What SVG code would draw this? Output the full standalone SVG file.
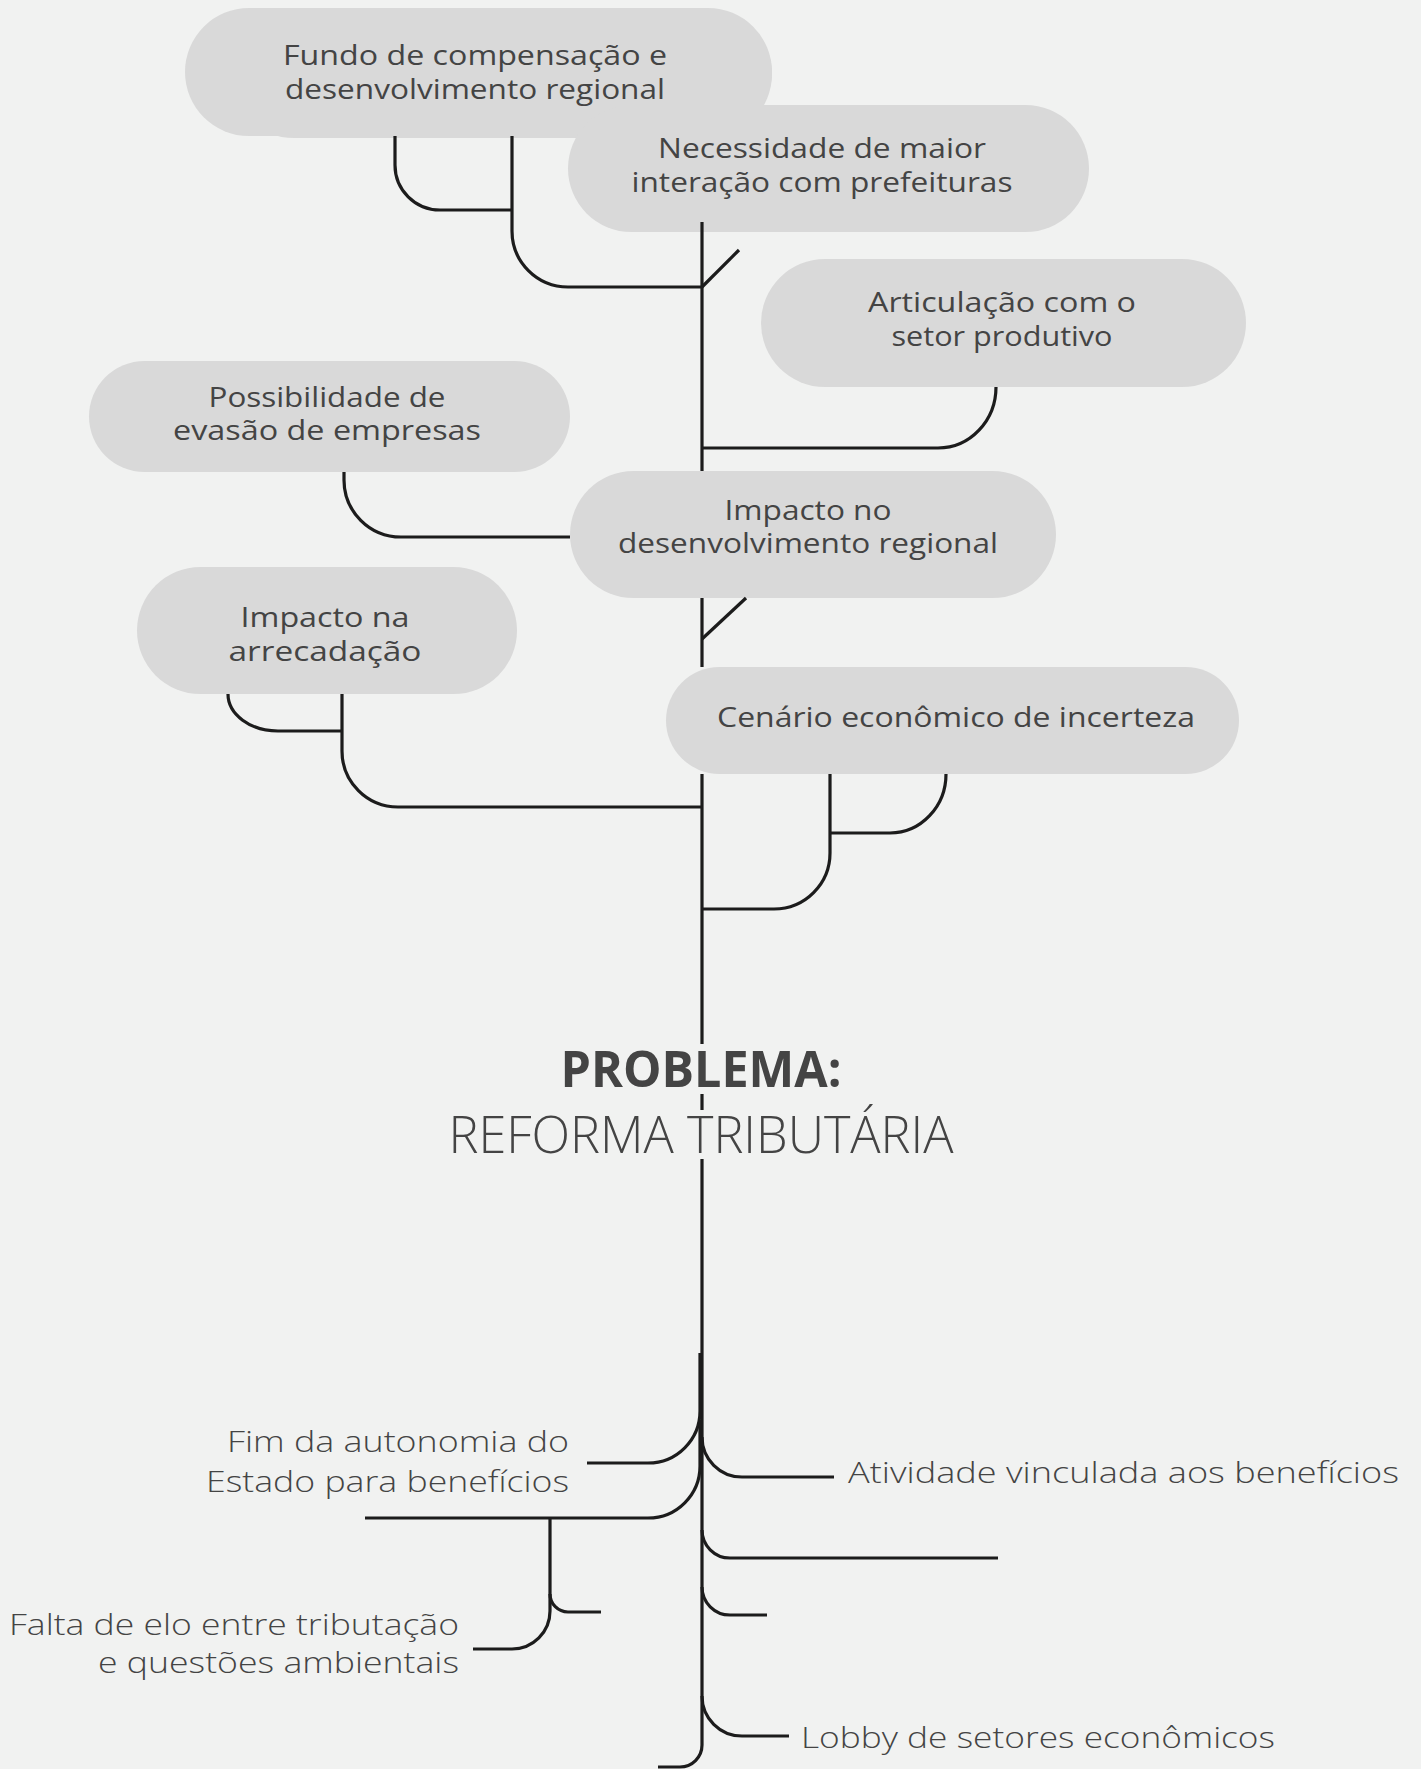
<svg xmlns="http://www.w3.org/2000/svg" width="1421" height="1769" viewBox="0 0 1421 1769">
  <style>
    .pill { fill: #d9d9d9; }
    .t { font-family: "Open Sans", "Noto Sans", sans-serif; font-size: 28px; fill: #444444; text-anchor: middle; }
    .lbl { font-family: "Open Sans", "Noto Sans", sans-serif; font-size: 30px; font-weight: 300; fill: #444444; }
    .end { text-anchor: end; }
    .ttl { font-family: "Open Sans", "Noto Sans", sans-serif; fill: #444444; text-anchor: middle; }
    .ln { fill: none; stroke: #1c1c1c; stroke-width: 3.2; }
  </style>

  <rect x="0" y="0" width="1421" height="1769" fill="#f1f2f1"/>

  <!-- upper tree: consequences -->
  <g id="fundo">
    <rect class="pill" x="230" y="10" width="542" height="128" rx="64"/>
    <rect class="pill" x="185" y="8" width="587" height="128" rx="64"/>
    <text class="t" x="475" y="65" textLength="384" lengthAdjust="spacingAndGlyphs">Fundo de compensação e</text>
    <text class="t" x="475" y="99" textLength="380" lengthAdjust="spacingAndGlyphs">desenvolvimento regional</text>
  </g>

  <g id="necessidade">
    <rect class="pill" x="568" y="105" width="521" height="127" rx="63.5"/>
    <text class="t" x="822" y="158" textLength="328" lengthAdjust="spacingAndGlyphs">Necessidade de maior</text>
    <text class="t" x="822" y="192" textLength="381" lengthAdjust="spacingAndGlyphs">interação com prefeituras</text>
  </g>

  <g id="articulacao">
    <rect class="pill" x="761" y="259" width="485" height="128" rx="64"/>
    <text class="t" x="1002" y="312" textLength="268" lengthAdjust="spacingAndGlyphs">Articulação com o</text>
    <text class="t" x="1002" y="346" textLength="221" lengthAdjust="spacingAndGlyphs">setor produtivo</text>
  </g>

  <g id="possibilidade">
    <rect class="pill" x="89" y="361" width="481" height="111" rx="55.5"/>
    <text class="t" x="327" y="407" textLength="237" lengthAdjust="spacingAndGlyphs">Possibilidade de</text>
    <text class="t" x="327" y="440" textLength="308" lengthAdjust="spacingAndGlyphs">evasão de empresas</text>
  </g>

  <g id="impacto-desenvolvimento">
    <rect class="pill" x="570" y="471" width="486" height="127" rx="63.5"/>
    <text class="t" x="808" y="520" textLength="167" lengthAdjust="spacingAndGlyphs">Impacto no</text>
    <text class="t" x="808" y="553" textLength="380" lengthAdjust="spacingAndGlyphs">desenvolvimento regional</text>
  </g>

  <g id="impacto-arrecadacao">
    <rect class="pill" x="137" y="567" width="380" height="127" rx="63.5"/>
    <text class="t" x="325" y="627" textLength="169" lengthAdjust="spacingAndGlyphs">Impacto na</text>
    <text class="t" x="325" y="661" textLength="193" lengthAdjust="spacingAndGlyphs">arrecadação</text>
  </g>

  <g id="cenario">
    <rect class="pill" x="666" y="667" width="573" height="107" rx="53.5"/>
    <text class="t" x="956" y="727" textLength="478" lengthAdjust="spacingAndGlyphs">Cenário econômico de incerteza</text>
  </g>

  <!-- central problem -->
  <g id="problema">
    <text class="ttl" x="701" y="1087" font-size="50" font-weight="700" textLength="281" lengthAdjust="spacingAndGlyphs">PROBLEMA:</text>
    <text class="ttl" x="701" y="1153" font-size="51" font-weight="300" textLength="505" lengthAdjust="spacingAndGlyphs">REFORMA TRIBUTÁRIA</text>
  </g>

  <!-- lower tree: causes -->
  <g id="fim-autonomia">
    <text class="lbl end" x="569" y="1452" textLength="342" lengthAdjust="spacingAndGlyphs">Fim da autonomia do</text>
    <text class="lbl end" x="569" y="1492" textLength="363" lengthAdjust="spacingAndGlyphs">Estado para benefícios</text>
  </g>

  <g id="falta-elo">
    <text class="lbl end" x="459" y="1635" textLength="450" lengthAdjust="spacingAndGlyphs">Falta de elo entre tributação</text>
    <text class="lbl end" x="459" y="1673" textLength="361" lengthAdjust="spacingAndGlyphs">e questões ambientais</text>
  </g>

  <g id="atividade">
    <text class="lbl" x="848" y="1483" textLength="551" lengthAdjust="spacingAndGlyphs">Atividade vinculada aos benefícios</text>
  </g>

  <g id="lobby">
    <text class="lbl" x="801" y="1748" textLength="474" lengthAdjust="spacingAndGlyphs">Lobby de setores econômicos</text>
  </g>

  <g id="connectors">
    <!-- trunk, broken where boxes and the title sit -->
    <path class="ln" d="M702,222 V471"/>
    <path class="ln" d="M702,598 V667"/>
    <path class="ln" d="M702,774 V1044"/>
    <path class="ln" d="M702,1094 V1110"/>
    <path class="ln" d="M702,1159 V1745 A22,22 0 0 1 680,1767 H658"/>

    <!-- ticks on the trunk -->
    <path class="ln" d="M702,287 L739,250"/>
    <path class="ln" d="M702,639 L746,598"/>

    <!-- upper branches -->
    <path class="ln" d="M395,136 V165 A45,45 0 0 0 440,210 H512"/>
    <path class="ln" d="M512,136 V231 A56,56 0 0 0 568,287 H702"/>
    <path class="ln" d="M996,387 A58,61 0 0 1 938,448 H702"/>
    <path class="ln" d="M344,472 V480 A57,57 0 0 0 401,537 H570"/>
    <path class="ln" d="M228,694 A50,37 0 0 0 278,731 H342"/>
    <path class="ln" d="M342,694 V751 A56,56 0 0 0 398,807 H702"/>
    <path class="ln" d="M946,774 A56,59 0 0 1 890,833 H830"/>
    <path class="ln" d="M830,774 V853 A56,56 0 0 1 774,909 H702"/>

    <!-- lower branches, left -->
    <path class="ln" d="M587,1463 H648 A52,52 0 0 0 700,1411 V1353"/>
    <path class="ln" d="M365,1518 H648 A52,52 0 0 0 700,1466 V1420"/>
    <path class="ln" d="M550,1518 V1611 A38,38 0 0 1 512,1649 H473"/>
    <path class="ln" d="M550,1594 A18,18 0 0 0 568,1612 H601"/>

    <!-- lower branches, right -->
    <path class="ln" d="M702,1437 A40,40 0 0 0 742,1477 H834"/>
    <path class="ln" d="M702,1530 A28,28 0 0 0 730,1558 H998"/>
    <path class="ln" d="M702,1587 A28,28 0 0 0 730,1615 H767"/>
    <path class="ln" d="M702,1696 A40,40 0 0 0 742,1736 H789"/>
  </g>
</svg>
